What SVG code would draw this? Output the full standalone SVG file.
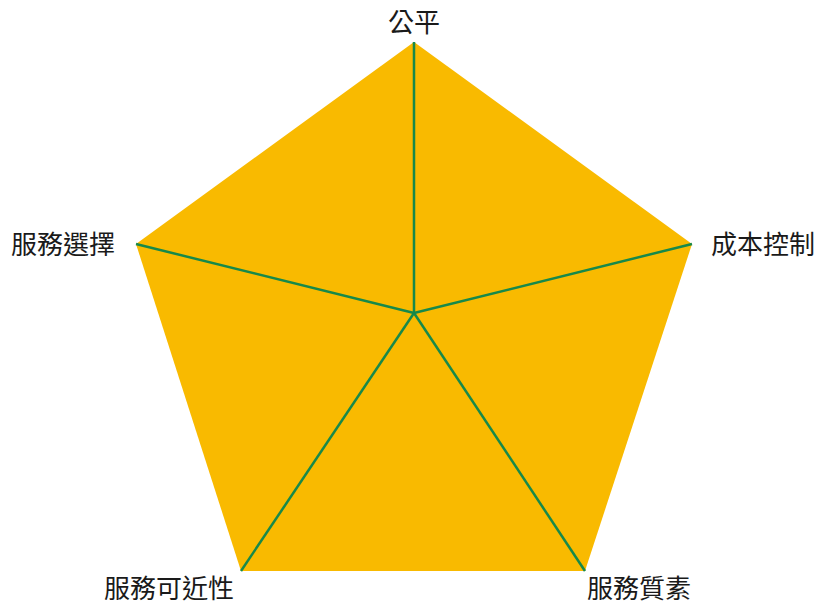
<svg xmlns="http://www.w3.org/2000/svg" width="818" height="605" viewBox="0 0 818 605">
<style>
.lbl{font-family:"Noto Sans CJK TC","Noto Sans CJK SC",sans-serif;font-size:26px;fill:#1a1a1a}
.spoke{stroke:#17894a;stroke-width:2.5;fill:none}
</style>
<rect width="818" height="605" fill="#ffffff"/>
<g id="pentagon">
<polygon points="414,42 692,244 585,571 241,571 136,244" fill="#f9ba00"/>
</g>
<g id="connectors">
<line class="spoke" x1="414" y1="313" x2="414" y2="42"/>
<line class="spoke" x1="414" y1="313" x2="692" y2="244"/>
<line class="spoke" x1="414" y1="313" x2="585" y2="571"/>
<line class="spoke" x1="414" y1="313" x2="241" y2="571"/>
<line class="spoke" x1="414" y1="313" x2="136" y2="244"/>
</g>
<g id="label-fair"><text class="lbl" x="414" y="32" text-anchor="middle">公平</text></g>
<g id="label-cost"><text class="lbl" x="711" y="254">成本控制</text></g>
<g id="label-quality"><text class="lbl" x="587" y="598">服務質素</text></g>
<g id="label-access"><text class="lbl" x="104" y="598">服務可近性</text></g>
<g id="label-choice"><text class="lbl" x="11" y="254">服務選擇</text></g>
</svg>
